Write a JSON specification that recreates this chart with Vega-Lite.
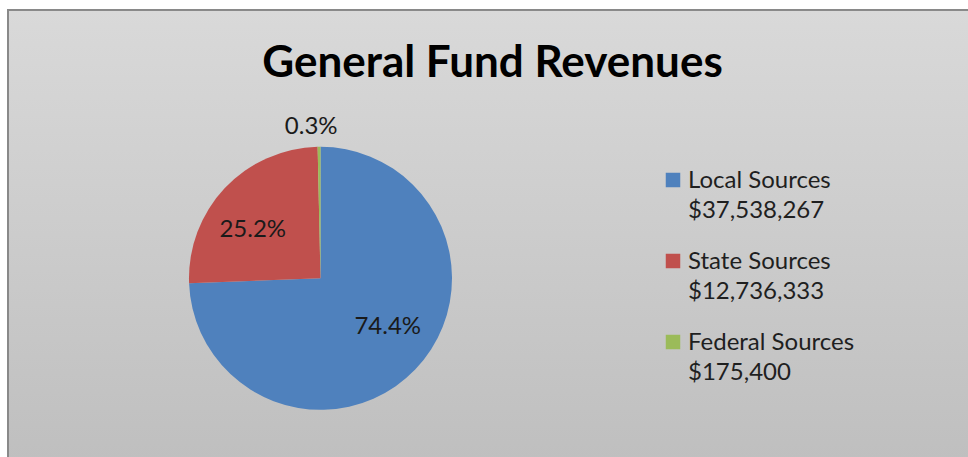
{
  "$schema": "https://vega.github.io/schema/vega-lite/v6.json",
  "width": 963,
  "height": 450,
  "autosize": {"type": "none"},
  "padding": {"left": 8, "top": 10, "right": -3, "bottom": -3},
  "background": "white",
  "view": {
    "stroke": "#898989",
    "strokeWidth": 2,
    "fill": {
      "gradient": "linear",
      "x1": 0, "y1": 0, "x2": 0, "y2": 1,
      "stops": [
        {"offset": 0, "color": "#d9d9d9"},
        {"offset": 1, "color": "#bfbfbf"}
      ]
    }
  },
  "title": {
    "text": "General Fund Revenues",
    "font": "Lato",
    "fontSize": 44,
    "fontWeight": "bold",
    "color": "#000000",
    "anchor": "middle",
    "frame": "group",
    "offset": -76,
    "dx": 3
  },
  "data": {
    "values": [
      {"source": "Local Sources", "legend": "Local Sources|$37,538,267", "amount": 37538267, "share": 0.7441},
      {"source": "State Sources", "legend": "State Sources|$12,736,333", "amount": 12736333, "share": 0.2524},
      {"source": "Federal Sources", "legend": "Federal Sources|$175,400", "amount": 175400, "share": 0.00348}
    ]
  },
  "encoding": {
    "theta": {"field": "amount", "type": "quantitative", "stack": true},
    "order": {"field": "amount", "type": "quantitative", "sort": "descending"}
  },
  "layer": [
    {
      "mark": {"type": "arc", "radius": 131.5, "x": {"expr": "width * 0.3245"}, "y": {"expr": "height * 0.5962"}},
      "encoding": {
        "color": {
          "field": "legend",
          "type": "nominal",
          "sort": ["Local Sources|$37,538,267", "State Sources|$12,736,333", "Federal Sources|$175,400"],
          "scale": {
            "domain": ["Local Sources|$37,538,267", "State Sources|$12,736,333", "Federal Sources|$175,400"],
            "range": ["#4f81bd", "#c0504d", "#9bbb59"]
          },
          "legend": {
            "title": null,
            "orient": "none",
            "legendX": 653,
            "legendY": 158,
            "symbolType": "square",
            "symbolSize": 210,
            "symbolStrokeWidth": 0,
            "labelFont": "Lato",
            "labelFontSize": 24,
            "labelColor": "#1f1f1f",
            "labelLimit": 400,
            "labelOffset": 3,
            "labelBaseline": "top",
            "rowPadding": 26,
            "labelExpr": "split(datum.label, '|')",
            "encode": {"labels": {"update": {"lineHeight": {"value": 30}, "dy": {"value": -11}}}}
          }
        }
      }
    },
    {
      "mark": {"type": "text", "radius": 83, "thetaOffset": -0.14, "x": {"expr": "width * 0.3245"}, "y": {"expr": "height * 0.5962"}, "font": "Lato", "fontSize": 24, "color": "#1a1a1a", "align": "center", "baseline": "middle"},
      "encoding": {
        "text": {"condition": {"test": "datum.share < 0.01", "value": ""}, "field": "share", "type": "quantitative", "format": ".1%"}
      }
    },
    {
      "mark": {"type": "text", "radius": 152, "thetaOffset": -0.05, "x": {"expr": "width * 0.3245"}, "y": {"expr": "height * 0.5962"}, "font": "Lato", "fontSize": 24, "color": "#1a1a1a", "align": "center", "baseline": "middle"},
      "encoding": {
        "text": {"condition": {"test": "datum.share >= 0.01", "value": ""}, "field": "share", "type": "quantitative", "format": ".1%"}
      }
    }
  ]
}
